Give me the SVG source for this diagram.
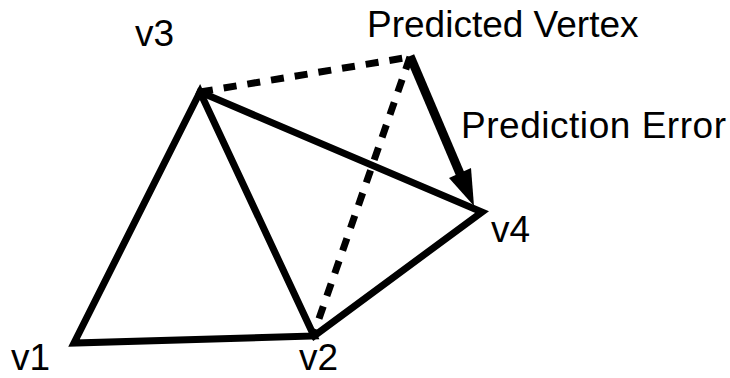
<svg xmlns="http://www.w3.org/2000/svg" width="730" height="378" viewBox="0 0 730 378">
<defs>
<style>
.lbl{font-family:"Liberation Sans",Arial,sans-serif;font-size:37px;fill:#000}
.solid{stroke:#000;stroke-width:7;fill:none;stroke-linejoin:miter;stroke-linecap:square}
.dash{stroke:#000;stroke-width:7;fill:none;stroke-dasharray:13 11}
</style>
</defs>
<rect width="730" height="378" fill="#fff"/>
<g id="connectors">
<path class="dash" d="M200,92 L410,57"/>
<path class="dash" d="M410,57 L314,333"/>
<path class="solid" d="M200,92 L74,343 L314,336 Z"/>
<path class="solid" d="M200,92 L482,212 L314,336"/>
<line x1="410" y1="56" x2="461" y2="176" stroke="#000" stroke-width="9"/>
<path d="M474,206 L471,168 L449,178 Z" fill="#000"/>
</g>
<g id="v1"><text class="lbl" x="11" y="370">v1</text></g>
<g id="v2"><text class="lbl" x="299" y="370">v2</text></g>
<g id="v3"><text class="lbl" x="135" y="46">v3</text></g>
<g id="v4"><text class="lbl" x="491" y="242">v4</text></g>
<g id="predicted"><text class="lbl" x="367" y="37">Predicted Vertex</text></g>
<g id="error"><text class="lbl" x="461" y="138" textLength="265">Prediction Error</text></g>
</svg>
